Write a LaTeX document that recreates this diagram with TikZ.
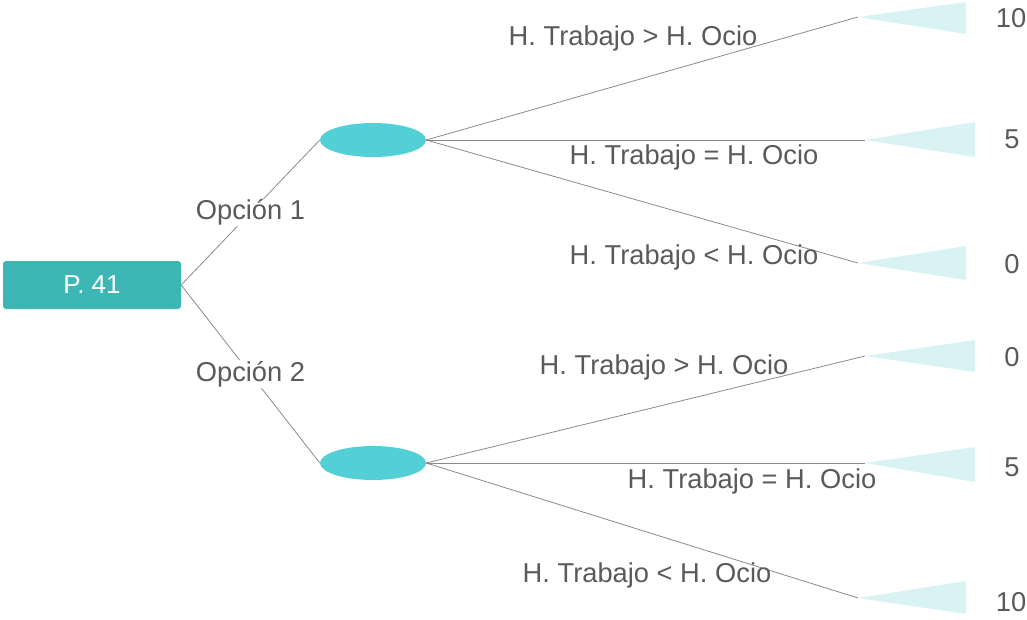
\documentclass[tikz,border=0pt]{standalone}
\usepackage{fontspec}
\setmainfont{Liberation Sans}
\usetikzlibrary{shapes.geometric}
\definecolor{boxteal}{HTML}{3DB7B6}
\definecolor{elcyan}{HTML}{52D0D6}
\definecolor{tricyan}{HTML}{D9F3F4}
\definecolor{txtgray}{HTML}{5A5A5A}
\definecolor{linegray}{HTML}{8A8A8A}
\begin{document}
\begin{tikzpicture}[x=1pt,y=-1pt,
  lbl/.style={text=txtgray,font=\fontsize{27.3}{31}\selectfont,inner sep=1pt},
  conn/.style={draw=linegray,line width=0.8pt},
  chance/.style={ellipse,fill=elcyan,minimum width=106pt,minimum height=34pt,inner sep=0pt},
  tri/.style={fill=tricyan,rounded corners=1pt}]
\useasboundingbox (0,0) rectangle (1027,619);
\node[fill=boxteal,rounded corners=3pt,minimum width=178pt,minimum height=48pt,text=white,font=\fontsize{26}{30}\selectfont,inner sep=0pt] (root) at (92,285) {P. 41};
\node[chance] (e1) at (373,140) {};
\node[chance] (e2) at (373,463) {};
% triangles
\coordinate (t1) at (858,17);
\coordinate (t2) at (865,140);
\coordinate (t3) at (858,263);
\coordinate (t4) at (865,356);
\coordinate (t5) at (865,463);
\coordinate (t6) at (858,598);
\fill[tri] (t1) -- (966,2) -- (966,34) -- cycle;
\fill[tri] (t2) -- (975,122) -- (975,157) -- cycle;
\fill[tri] (t3) -- (966,246) -- (966,280) -- cycle;
\fill[tri] (t4) -- (975,340) -- (975,372) -- cycle;
\fill[tri] (t5) -- (975,447) -- (975,482) -- cycle;
\fill[tri] (t6) -- (966,581) -- (966,614) -- cycle;
% connectors
\draw[conn] (root.east) -- node[lbl,fill=white,pos=0.5] {Opción 1} (e1.west);
\draw[conn] (root.east) -- node[lbl,fill=white,pos=0.5] {Opción 2} (e2.west);
\draw[conn] (e1.east) -- (t1);
\draw[conn] (e1.east) -- (t2);
\draw[conn] (e1.east) -- (t3);
\draw[conn] (e2.east) -- (t4);
\draw[conn] (e2.east) -- (t5);
\draw[conn] (e2.east) -- (t6);
% edge labels
\node[lbl] (l1) at (633,38) {H. Trabajo > H. Ocio};
\node[lbl] (l2) at (694,157) {H. Trabajo = H. Ocio};
\node[lbl] (l3) at (694,257) {H. Trabajo < H. Ocio};
\node[lbl] (l4) at (664,367) {H. Trabajo > H. Ocio};
\node[lbl] (l5) at (752,481) {H. Trabajo = H. Ocio};
\node[lbl] (l6) at (647,575) {H. Trabajo < H. Ocio};
% payoffs
\node[lbl] (p1) at (1011,18) {10};
\node[lbl] (p2) at (1012,139) {5};
\node[lbl] (p3) at (1012,264) {0};
\node[lbl] (p4) at (1012,357) {0};
\node[lbl] (p5) at (1012,467) {5};
\node[lbl] (p6) at (1011,602) {10};
\end{tikzpicture}
\end{document}
